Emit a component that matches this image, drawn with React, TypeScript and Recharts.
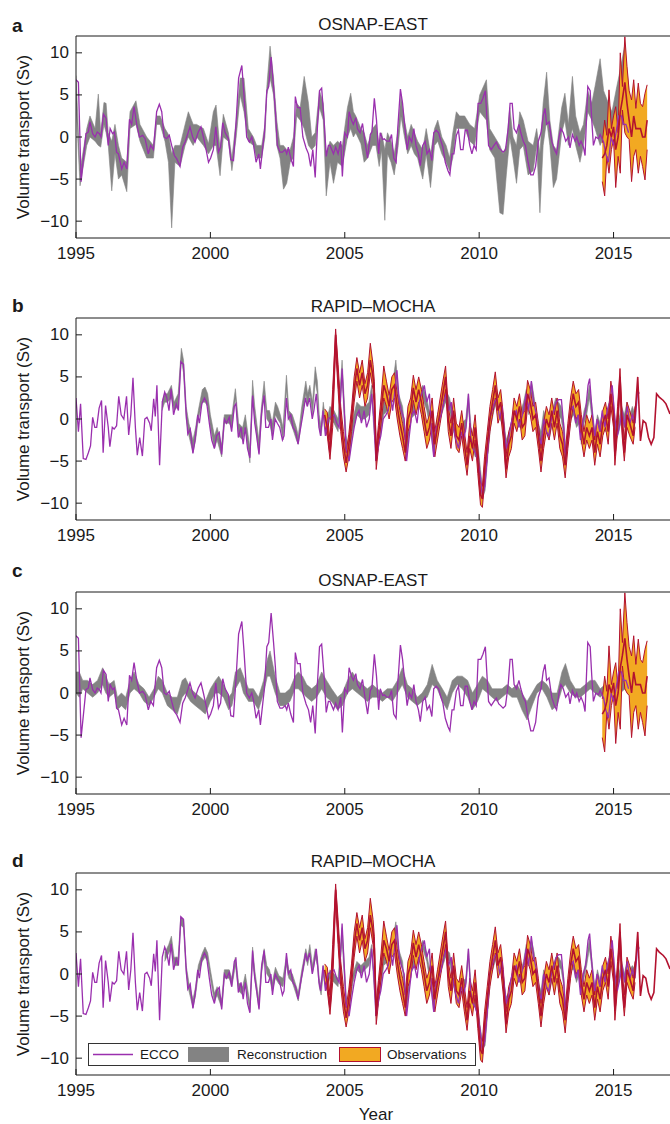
import { ComposedChart, Line, Area, XAxis, YAxis, ReferenceLine } from "recharts"

const years = [1995, 2000, 2005, 2010, 2015]
const vTicks = [-10, -5, 0, 5, 10]

// ECCO, OSNAP-EAST (panels a, c): [year, Sv]
const eccoEast: number[][] = [
  [1995.00,6.8],[1995.09,6.5],[1995.19,-5.3],[1995.37,0.4],[1995.46,0.6],[1995.52,1.8],[1995.62,0.4],[1995.71,0.0],[1995.79,0.6],[1995.87,0.4],[1995.93,0.0],
  [1996.02,2.7],[1996.12,2.2],[1996.20,-1.0],[1996.27,1.0],[1996.36,0.4],[1996.43,0.6],[1996.51,-1.8],[1996.58,-2.0],[1996.70,-3.8],[1996.79,-3.0],[1996.89,-3.8],[1996.99,2.1],
  [1997.07,1.5],[1997.16,3.6],[1997.26,1.5],[1997.36,0.0],[1997.48,0.2],[1997.57,-0.2],[1997.69,-2.0],[1997.78,-1.0],[1997.88,-1.5],
  [1998.00,3.0],[1998.10,3.9],[1998.19,3.0],[1998.28,0.0],[1998.37,-0.2],[1998.47,0.2],[1998.56,-1.0],[1998.66,-2.2],[1998.75,-2.6],[1998.87,-3.5],[1998.97,-1.2],
  [1999.06,-0.6],[1999.16,0.4],[1999.24,1.2],[1999.34,0.0],[1999.43,-0.6],[1999.55,0.6],[1999.65,1.2],[1999.74,0.0],[1999.84,-1.5],[1999.93,-3.0],
  [2000.01,-2.5],[2000.11,-1.5],[2000.20,1.2],[2000.30,-1.8],[2000.38,-1.2],[2000.46,1.7],[2000.55,0.5],[2000.67,-0.2],[2000.76,-2.7],[2000.86,-2.8],[2000.96,2.0],
  [2001.05,7.0],[2001.17,8.5],[2001.25,5.0],[2001.35,0.0],[2001.45,-0.6],[2001.54,0.0],[2001.60,-0.8],[2001.70,-3.0],[2001.80,-2.0],[2001.86,-3.8],[2001.95,-1.2],
  [2002.01,0.5],[2002.10,5.5],[2002.17,6.0],[2002.26,9.5],[2002.35,6.0],[2002.42,3.0],[2002.49,-1.0],[2002.59,-1.8],[2002.68,-1.8],[2002.78,-1.5],[2002.84,-2.0],[2002.90,-1.2],[2002.99,-2.5],
  [2003.09,-3.5],[2003.16,4.8],[2003.24,3.5],[2003.34,3.5],[2003.44,0.0],[2003.56,-1.3],[2003.65,-2.0],[2003.73,-3.5],[2003.81,-1.5],[2003.90,-4.8],[2003.98,1.0],
  [2004.06,5.5],[2004.14,5.8],[2004.23,2.0],[2004.31,-2.3],[2004.39,-1.0],[2004.45,-1.0],[2004.58,-2.0],[2004.66,-1.2],[2004.75,-2.0],[2004.85,-0.5],[2004.91,-4.7],
  [2005.00,0.5],[2005.10,0.0],[2005.16,3.0],[2005.25,2.0],[2005.32,1.5],[2005.41,2.3],[2005.47,1.0],[2005.57,0.5],[2005.66,1.6],[2005.75,-0.5],[2005.85,-2.5],[2005.95,0.3],
  [2006.01,0.6],[2006.10,4.6],[2006.18,2.0],[2006.26,-2.0],[2006.32,0.5],[2006.41,-0.3],[2006.47,-0.2],[2006.56,-0.5],[2006.66,-0.5],[2006.74,0.3],[2006.82,-2.5],[2006.91,-3.0],[2006.97,1.0],
  [2007.07,5.7],[2007.15,4.0],[2007.24,1.0],[2007.32,-1.5],[2007.40,0.0],[2007.49,-0.6],[2007.57,1.0],[2007.65,-1.0],[2007.74,-2.0],[2007.81,-3.4],[2007.90,-1.0],[2007.99,-0.5],
  [2008.06,-2.0],[2008.15,-1.5],[2008.24,-2.8],[2008.31,0.5],[2008.40,0.8],[2008.49,0.5],[2008.56,-0.3],[2008.65,-1.2],[2008.74,-3.0],[2008.84,-4.0],[2008.91,-4.5],[2008.99,-2.0],
  [2009.06,-2.0],[2009.15,0.2],[2009.23,0.8],[2009.31,-1.5],[2009.40,-1.5],[2009.48,0.8],[2009.56,0.8],[2009.65,-1.0],[2009.73,-2.0],[2009.81,-1.0],[2009.89,-1.5],[2009.96,4.0],
  [2010.06,4.0],[2010.14,4.6],[2010.23,5.5],[2010.31,1.0],[2010.35,-1.0],[2010.45,-1.5],[2010.55,-1.0],[2010.64,-0.6],[2010.73,-1.3],[2010.80,-1.5],[2010.89,-1.8],[2010.98,-1.5],
  [2011.08,1.0],[2011.15,4.0],[2011.23,4.0],[2011.30,1.0],[2011.39,0.5],[2011.48,1.5],[2011.55,0.5],[2011.64,-0.5],[2011.72,-1.0],[2011.82,-3.0],[2011.92,-4.5],
  [2012.01,-4.5],[2012.10,-3.5],[2012.20,-0.5],[2012.30,0.5],[2012.38,2.5],[2012.45,3.4],[2012.51,1.5],[2012.60,1.8],[2012.70,-0.5],[2012.80,-1.5],[2012.88,-2.0],[2012.97,0.0],
  [2013.04,1.0],[2013.13,0.5],[2013.22,-0.5],[2013.32,0.0],[2013.38,-1.3],[2013.47,0.3],[2013.57,-0.5],[2013.63,0.0],[2013.72,-1.0],[2013.79,-0.5],[2013.88,-1.2],[2013.94,-2.2],
  [2014.04,6.0],[2014.13,5.5],[2014.19,2.0],[2014.25,-1.0],[2014.34,0.0],[2014.44,-0.2],[2014.50,0.3],[2014.63,-0.6],[2014.71,-2.0],[2014.81,-3.0],[2014.91,0.0],
  [2015.00,-1.0],[2015.09,0.5],[2015.19,2.5],[2015.29,2.5],[2015.37,1.5],[2015.46,1.5],[2015.56,0.5],
]

// ECCO, RAPID-MOCHA (panels b, d)
const eccoRapid: number[][] = [
  [1995.00,2.5],[1995.09,-1.5],[1995.17,1.8],[1995.27,-4.7],[1995.37,-4.8],[1995.46,-4.0],[1995.54,-3.2],[1995.62,0.2],[1995.70,-1.0],[1995.77,-1.0],[1995.86,1.3],[1995.95,2.2],
  [1996.01,-4.0],[1996.10,1.6],[1996.20,-1.0],[1996.26,-3.3],[1996.35,-1.0],[1996.42,-1.2],[1996.51,-0.8],[1996.59,2.7],[1996.68,0.5],[1996.78,0.0],[1996.88,2.7],[1996.96,-1.9],
  [1997.04,0.5],[1997.12,4.9],[1997.21,-1.0],[1997.28,-4.3],[1997.37,-2.2],[1997.47,-4.4],[1997.56,0.0],[1997.64,0.2],[1997.74,-0.5],[1997.80,-1.4],[1997.89,2.4],[1997.95,0.3],
  [1998.01,4.0],[1998.11,-5.5],[1998.21,2.0],[1998.30,3.2],[1998.38,2.5],[1998.46,1.0],[1998.54,3.6],[1998.63,0.5],[1998.73,1.8],[1998.81,1.0],[1998.90,6.8],
  [1999.00,6.5],[1999.10,0.5],[1999.16,-1.8],[1999.25,-1.2],[1999.35,-4.1],[1999.43,-2.5],[1999.53,0.5],[1999.59,-0.5],[1999.68,1.8],[1999.78,2.5],[1999.86,2.0],[1999.96,-0.5],
  [2000.05,-2.5],[2000.15,-3.5],[2000.23,-2.0],[2000.33,-1.6],[2000.42,-4.2],[2000.52,0.0],[2000.60,-0.5],[2000.70,0.2],[2000.79,-1.5],[2000.89,1.5],[2000.95,1.8],
  [2001.04,-2.2],[2001.14,-1.0],[2001.22,-3.0],[2001.30,-1.0],[2001.38,-3.5],[2001.47,-4.6],[2001.57,2.8],[2001.65,-0.5],[2001.72,-2.0],[2001.81,-4.2],[2001.91,1.0],
  [2002.00,2.8],[2002.06,-1.0],[2002.16,-1.0],[2002.25,0.0],[2002.31,-2.5],[2002.41,0.0],[2002.49,-0.5],[2002.58,-1.0],[2002.68,-2.5],[2002.74,-2.0],[2002.83,2.5],[2002.90,0.0],[2002.99,0.5],
  [2003.07,-1.0],[2003.17,-1.5],[2003.26,-3.0],[2003.36,-1.0],[2003.44,0.5],[2003.54,2.5],[2003.60,1.5],[2003.69,2.5],[2003.79,0.0],[2003.85,1.0],[2003.94,3.0],
  [2004.04,-1.0],[2004.10,-2.0],[2004.19,1.0],[2004.28,-2.0],[2004.38,0.0],[2004.47,0.2],[2004.60,0.5],[2004.70,-0.5],[2004.79,-1.0],[2004.90,6.0],
  [2005.05,-3.5],[2005.16,-5.0],[2005.25,-3.0],[2005.35,-1.0],[2005.45,0.5],[2005.53,1.0],[2005.62,-0.5],[2005.72,1.0],[2005.81,-1.0],[2005.91,0.0],
  [2006.00,3.0],[2006.07,0.5],[2006.16,-5.0],[2006.26,-3.0],[2006.34,-2.0],[2006.43,0.0],[2006.53,0.5],[2006.62,1.0],[2006.69,3.0],[2006.78,1.0],[2006.87,3.5],[2006.94,5.8],
  [2007.03,2.0],[2007.11,1.0],[2007.21,0.0],[2007.30,-5.0],[2007.40,-2.0],[2007.49,0.5],[2007.59,1.0],[2007.69,-0.5],[2007.77,2.0],[2007.86,3.0],[2007.96,4.0],
  [2008.05,2.0],[2008.15,3.0],[2008.23,-2.0],[2008.31,-4.5],[2008.40,-1.0],[2008.48,-0.5],[2008.58,0.5],[2008.68,2.0],[2008.77,3.0],[2008.86,1.0],[2008.96,2.0],
  [2009.04,-1.0],[2009.14,-2.5],[2009.23,-3.5],[2009.33,-1.5],[2009.42,-2.5],[2009.51,-1.0],[2009.60,3.0],[2009.68,-2.0],[2009.76,-3.5],[2009.86,-4.0],[2009.96,-5.0],
  [2010.05,-7.0],[2010.11,-9.0],[2010.21,-8.0],[2010.30,-4.5],[2010.39,0.0],[2010.48,1.0],[2010.57,2.0],[2010.66,2.5],[2010.76,0.0],[2010.85,1.5],[2010.92,-1.0],
  [2011.01,-3.5],[2011.10,-2.5],[2011.19,-0.5],[2011.28,0.5],[2011.38,1.0],[2011.47,-1.0],[2011.57,0.0],[2011.65,1.0],[2011.75,3.0],[2011.84,1.0],[2011.94,4.5],
  [2012.03,2.0],[2012.13,0.5],[2012.21,-2.0],[2012.31,-3.0],[2012.40,0.0],[2012.50,-1.5],[2012.59,-2.0],[2012.69,0.0],[2012.77,1.0],[2012.87,2.0],[2012.96,2.3],
  [2013.06,2.3],[2013.15,-1.0],[2013.21,-5.0],[2013.31,-2.0],[2013.40,1.0],[2013.50,1.5],[2013.59,-0.5],[2013.68,0.5],[2013.77,-2.5],[2013.87,0.0],[2013.96,1.0],
  [2014.05,4.0],[2014.11,4.8],[2014.20,1.0],[2014.30,-2.0],[2014.39,0.0],[2014.49,-1.5],[2014.58,1.0],[2014.68,-1.0],[2014.76,1.0],[2014.86,2.0],[2014.95,4.0],
  [2015.05,0.0],[2015.14,-2.0],[2015.24,-0.5],[2015.32,1.0],[2015.42,-1.0],[2015.51,1.5],[2015.61,-0.5],[2015.70,0.5],[2015.80,-0.5],[2015.90,3.5],[2015.95,3.0],
]

// Reconstruction bands: [year, low, high]
const reconA: number[][] = [
  [1995.00,4.0,7.3],[1995.15,-5.8,-4.0],[1995.40,-1.0,1.0],[1995.52,0.0,2.5],[1995.71,-0.5,1.0],[1995.83,-1.0,5.1],[1995.92,-1.2,0.5],[1996.04,1.5,4.1],[1996.12,0.5,4.0],
  [1996.20,-1.0,0.5],[1996.33,-6.4,-0.5],[1996.45,-2.0,1.5],[1996.58,-5.0,-1.0],[1996.70,-4.5,-2.5],[1996.89,-6.5,-3.0],[1997.01,1.0,3.0],[1997.23,1.5,4.3],[1997.38,-0.5,1.5],
  [1997.63,-2.5,0.0],[1997.88,-2.5,-1.0],[1998.00,1.5,2.5],[1998.13,1.5,2.5],[1998.31,-0.5,1.0],[1998.44,-3.0,0.3],[1998.56,-10.8,-2.0],[1998.68,-3.0,-1.0],[1998.87,-3.5,-1.0],
  [1999.06,-1.0,1.5],[1999.18,0.0,3.0],[1999.36,-1.0,1.5],[1999.49,0.0,1.5],[1999.74,-1.0,1.0],[1999.93,-2.0,-0.8],[2000.11,-1.0,3.0],[2000.21,-1.0,3.8],[2000.36,-4.6,-1.5],
  [2000.48,0.0,2.7],[2000.67,-0.5,0.5],[2000.80,-4.0,-2.5],[2000.96,0.0,2.0],[2001.11,5.0,7.0],[2001.25,3.0,7.0],[2001.41,-0.5,1.0],[2001.60,-1.0,0.0],[2001.72,-2.5,-1.0],
  [2001.91,-2.5,-1.0],[2002.03,0.0,1.5],[2002.10,5.0,6.0],[2002.22,7.0,10.8],[2002.35,5.0,7.0],[2002.47,-1.0,2.0],[2002.59,-2.5,-1.0],[2002.72,-6.2,-1.0],[2002.84,-5.5,-1.5],
  [2002.97,-3.0,-1.5],[2003.09,-2.5,0.0],[2003.21,2.5,4.0],[2003.34,2.0,3.5],[2003.49,1.0,7.2],[2003.65,-1.0,4.0],[2003.77,-1.5,0.0],[2003.90,-1.0,0.5],[2004.06,3.5,5.5],
  [2004.20,2.0,4.0],[2004.31,-7.0,-2.0],[2004.45,-3.0,-0.5],[2004.58,-5.5,-1.0],[2004.73,-3.0,-0.5],[2004.91,-3.5,-1.0],[2005.10,0.0,3.5],[2005.22,1.0,5.2],[2005.32,0.0,3.0],
  [2005.41,0.5,2.5],[2005.60,-0.8,1.0],[2005.72,-3.0,0.5],[2005.85,-2.5,-1.0],[2006.03,-1.0,1.0],[2006.16,-1.0,1.5],[2006.28,-3.5,-1.0],[2006.37,-1.5,0.5],[2006.49,-9.9,-1.5],
  [2006.59,-2.0,0.5],[2006.72,-3.0,-0.5],[2006.84,-4.5,-2.0],[2006.99,-1.0,1.0],[2007.09,2.5,5.0],[2007.22,0.0,2.0],[2007.34,-2.0,0.0],[2007.47,-1.0,1.5],[2007.59,-2.0,0.5],
  [2007.71,-2.5,-0.5],[2007.90,-5.0,-1.5],[2008.03,-2.0,1.0],[2008.19,-6.0,-2.0],[2008.34,-1.0,1.0],[2008.46,-0.5,2.0],[2008.61,-2.0,0.0],[2008.77,-3.0,-1.0],[2008.90,-4.0,-2.5],
  [2009.02,-2.5,0.5],[2009.15,1.0,3.0],[2009.27,1.0,2.5],[2009.46,1.0,2.5],[2009.65,-0.5,1.5],[2009.83,-1.0,1.0],[2010.02,3.0,5.0],[2010.27,2.0,6.8],[2010.39,-1.5,1.0],
  [2010.58,-2.5,0.0],[2010.77,-9.0,-1.0],[2010.89,-9.2,-2.0],[2011.01,-4.5,-1.0],[2011.14,0.0,3.5],[2011.26,-2.5,0.0],[2011.39,-5.5,-1.0],[2011.51,-1.5,3.0],[2011.64,-1.0,2.0],
  [2011.82,-4.5,-0.5],[2012.01,-4.0,-1.0],[2012.14,-1.0,1.0],[2012.26,-9.0,-2.0],[2012.38,-1.0,4.0],[2012.51,2.0,7.7],[2012.63,-1.0,2.0],[2012.76,-6.0,-1.0],[2012.88,-5.0,-1.5],
  [2013.07,0.5,3.5],[2013.19,2.0,5.2],[2013.32,-1.0,1.5],[2013.47,1.0,7.2],[2013.59,-1.0,2.5],[2013.75,-3.0,0.5],[2013.88,-1.0,1.5],[2014.04,3.0,5.5],[2014.19,2.0,4.0],
  [2014.31,1.0,6.0],[2014.50,-1.0,9.3],[2014.63,0.0,5.5],[2014.75,-1.0,4.5],[2014.94,-0.5,3.0],[2015.12,2.0,6.0],[2015.25,1.0,8.0],[2015.41,2.0,10.8],[2015.56,0.0,6.0],[2015.68,0.0,2.0],
]

const reconB: number[][] = [
  [1998.20,1.0,2.0],[1998.30,2.0,3.0],[1998.40,2.0,3.0],[1998.55,2.5,4.0],[1998.65,1.0,2.0],[1998.80,1.5,3.0],[1998.92,7.0,8.4],[1999.00,5.5,7.0],[1999.10,0.0,1.5],
  [1999.20,-2.0,-0.5],[1999.35,-4.0,-2.5],[1999.45,-2.5,-1.0],[1999.55,0.0,1.0],[1999.70,2.0,3.5],[1999.80,2.0,3.8],[1999.90,1.5,3.0],[2000.00,-1.0,0.5],[2000.15,-3.5,-2.0],
  [2000.25,-2.5,-1.0],[2000.42,-4.5,-3.0],[2000.52,-0.5,0.5],[2000.70,-0.5,0.5],[2000.80,-1.0,0.5],[2000.93,2.5,3.6],[2001.05,-2.0,-0.5],[2001.20,-2.5,-1.0],[2001.30,-1.0,0.5],
  [2001.47,-5.2,-3.5],[2001.57,3.0,4.6],[2001.65,0.0,1.5],[2001.80,-4.0,-2.5],[2001.90,0.0,1.5],[2002.00,3.0,4.5],[2002.10,0.0,1.0],[2002.20,-0.5,1.0],[2002.30,-2.0,-0.5],
  [2002.42,0.5,2.0],[2002.50,0.0,1.5],[2002.60,-0.5,0.5],[2002.70,-2.5,-1.0],[2002.83,3.5,5.2],[2002.92,0.0,1.0],[2003.05,-1.0,0.5],[2003.20,-2.5,-1.0],[2003.27,-3.0,-2.0],
  [2003.40,0.0,1.5],[2003.55,3.0,4.5],[2003.62,1.5,3.0],[2003.70,3.0,4.0],[2003.80,0.5,2.0],[2003.90,4.5,6.2],[2003.98,3.0,4.5],[2004.05,-1.0,0.5],[2004.12,-2.0,-1.0],
  [2004.20,0.5,2.0],[2004.30,-2.0,-0.5],[2004.45,0.0,1.5],[2004.60,-0.5,1.0],[2004.75,-1.5,0.0],[2004.90,5.0,7.0],[2005.05,-4.0,-2.0],[2005.15,-5.0,-3.5],[2005.30,-1.5,0.0],
  [2005.45,0.5,2.0],[2005.60,0.0,1.5],[2005.75,0.0,1.5],[2005.90,0.5,2.0],[2006.00,2.5,4.0],[2006.17,-5.0,-3.5],[2006.30,-2.5,-1.0],[2006.45,0.5,2.0],[2006.60,1.0,2.5],
  [2006.75,2.0,3.5],[2006.90,5.5,7.0],[2007.00,1.5,3.0],[2007.15,0.0,1.5],[2007.30,-4.5,-3.0],[2007.45,0.0,1.5],[2007.60,0.5,2.0],[2007.75,1.5,3.0],[2007.90,2.5,4.0],
  [2008.05,1.0,2.5],[2008.20,-1.5,0.0],[2008.30,-4.0,-2.5],[2008.45,-1.0,0.5],[2008.60,0.5,2.0],[2008.75,2.0,3.5],[2008.90,1.0,2.5],[2009.05,-1.5,0.0],[2009.20,-3.5,-2.0],
  [2009.35,-2.0,-0.5],[2009.50,-1.5,0.0],[2009.60,1.5,3.0],[2009.70,-2.5,-1.0],[2009.85,-4.5,-3.0],[2009.95,-4.5,-3.0],[2010.05,-7.5,-6.0],[2010.12,-9.5,-8.0],[2010.22,-8.5,-7.0],
  [2010.32,-4.5,-3.0],[2010.42,-1.0,0.5],[2010.55,1.0,2.5],[2010.65,2.0,3.5],[2010.78,0.0,1.5],[2010.90,-1.0,0.5],[2011.00,-4.0,-2.5],[2011.12,-3.0,-1.5],[2011.25,-1.0,0.5],
  [2011.40,0.0,1.5],[2011.50,-1.0,0.5],[2011.65,0.5,2.0],[2011.75,2.0,3.5],[2011.85,0.5,2.0],[2011.95,3.0,4.5],[2012.05,1.0,2.5],[2012.20,-2.0,-0.5],[2012.30,-3.0,-1.5],
  [2012.40,-0.5,1.0],[2012.50,-1.5,0.0],[2012.60,-2.5,-1.0],[2012.72,-0.5,1.0],[2012.85,1.0,2.5],[2012.95,0.5,2.0],[2013.05,0.0,1.5],[2013.15,-2.0,-0.5],[2013.22,-5.0,-3.5],
  [2013.32,-2.5,-1.0],[2013.42,0.0,1.5],[2013.52,0.5,2.0],[2013.62,-1.0,0.5],[2013.72,-0.5,1.0],[2013.80,-3.0,-1.5],[2013.90,-0.5,1.0],[2014.00,0.5,2.0],[2014.10,2.5,4.0],
  [2014.20,0.0,1.5],[2014.30,-3.0,-1.5],[2014.40,-1.0,0.5],[2014.50,-2.0,-0.5],[2014.60,-0.5,1.0],[2014.70,-1.5,0.0],[2014.80,0.0,1.5],[2014.90,1.5,3.0],[2015.00,0.0,1.5],
  [2015.10,-2.5,-1.0],[2015.20,-1.5,0.0],[2015.30,0.0,1.5],[2015.40,-1.0,0.5],[2015.50,0.5,2.0],[2015.60,-1.0,0.5],[2015.70,0.0,1.5],[2015.80,-1.0,0.5],
]

const reconC: number[][] = [
  [1995.00,0.0,2.5],[1995.12,-0.5,2.5],[1995.25,0.5,1.5],[1995.43,0.0,1.5],[1995.62,-0.5,1.0],[1995.80,0.0,1.5],[1995.99,1.0,3.0],[1996.11,0.0,2.0],[1996.23,-0.5,1.0],
  [1996.42,0.0,1.5],[1996.54,-2.0,-0.5],[1996.69,-1.5,0.0],[1996.85,-2.0,-0.5],[1997.01,0.0,1.5],[1997.16,0.5,2.5],[1997.35,0.0,1.0],[1997.53,-1.0,0.5],[1997.72,-1.5,-0.5],
  [1997.90,-0.5,0.5],[1998.06,0.5,2.0],[1998.21,0.0,1.5],[1998.40,-1.5,0.0],[1998.58,-2.0,-0.5],[1998.77,-2.5,-0.5],[1998.95,-0.5,1.5],[1999.07,0.0,1.8],[1999.26,-1.0,0.5],
  [1999.44,-1.5,0.0],[1999.63,-2.0,-0.5],[1999.81,-2.5,-1.0],[2000.00,-1.0,0.5],[2000.19,0.0,1.5],[2000.31,0.0,2.0],[2000.49,-0.5,1.0],[2000.68,-2.0,-0.5],[2000.80,-1.5,0.0],
  [2000.93,0.5,2.5],[2001.11,1.5,3.0],[2001.23,0.0,2.0],[2001.42,-1.0,0.5],[2001.60,-1.0,0.5],[2001.79,-2.0,-0.5],[2001.98,0.0,1.5],[2002.12,2.0,4.0],[2002.22,2.0,5.0],
  [2002.41,0.0,2.0],[2002.59,-1.5,0.0],[2002.78,-1.5,0.0],[2002.96,-1.0,0.5],[2003.15,0.5,2.0],[2003.27,0.5,2.5],[2003.43,0.0,2.0],[2003.58,-0.5,1.0],[2003.77,-1.0,0.5],
  [2003.95,-0.5,1.0],[2004.14,0.5,2.5],[2004.32,-0.5,1.5],[2004.51,-1.0,0.5],[2004.73,-2.0,-0.5],[2004.91,-1.5,0.0],[2005.10,0.0,1.5],[2005.28,0.5,2.5],[2005.47,0.0,1.5],
  [2005.66,-0.5,1.0],[2005.84,-1.0,0.5],[2006.03,-0.5,1.0],[2006.21,-0.5,0.5],[2006.40,-1.0,0.0],[2006.58,-0.5,0.5],[2006.77,-1.0,0.5],[2006.96,0.0,1.5],[2007.14,1.0,3.0],
  [2007.33,-0.5,1.0],[2007.51,-1.0,0.5],[2007.70,-1.5,-0.5],[2007.88,-1.0,0.0],[2008.07,-0.5,1.0],[2008.25,1.0,3.4],[2008.44,0.5,1.5],[2008.63,-1.0,0.5],[2008.81,-2.0,-0.5],
  [2009.00,0.0,1.5],[2009.18,1.0,2.0],[2009.37,0.5,2.0],[2009.57,-0.5,1.5],[2009.75,-2.0,0.0],[2009.94,-1.0,1.0],[2010.12,0.5,2.0],[2010.31,0.0,1.5],[2010.48,-0.5,0.5],
  [2010.67,-1.0,0.5],[2010.85,-0.5,0.5],[2011.04,0.0,1.0],[2011.22,-0.5,0.5],[2011.41,-0.5,1.0],[2011.59,-2.0,0.0],[2011.78,-3.2,-1.0],[2011.97,-1.5,0.0],[2012.15,0.0,1.0],
  [2012.34,0.5,1.5],[2012.52,-0.5,1.0],[2012.71,-2.0,0.0],[2012.90,-1.5,0.0],[2013.08,0.5,2.5],[2013.21,1.0,3.5],[2013.39,0.0,1.5],[2013.58,-0.5,0.5],[2013.76,-0.5,0.5],
  [2013.95,0.0,1.0],[2014.13,0.5,1.5],[2014.31,0.0,1.5],[2014.50,-0.5,0.5],[2014.69,0.0,1.0],[2014.88,-0.5,0.5],[2015.06,0.0,1.5],[2015.25,0.0,1.5],[2015.43,0.5,2.0],[2015.62,-0.5,1.0],
]

const reconD: number[][] = [
  [1998.30,1.5,2.5],[1998.45,2.5,3.5],[1998.55,3.0,4.5],[1998.65,1.0,2.0],[1998.80,1.0,2.0],[1998.90,5.8,6.8],[1999.00,5.5,6.5],[1999.10,0.0,1.0],[1999.20,-2.0,-1.0],
  [1999.35,-4.0,-3.0],[1999.45,-2.5,-1.5],[1999.55,0.0,1.0],[1999.70,1.5,2.5],[1999.80,2.0,3.2],[1999.90,1.5,2.5],[2000.00,-0.5,0.5],[2000.15,-3.3,-2.3],[2000.25,-2.5,-1.5],
  [2000.42,-4.0,-3.0],[2000.52,-0.5,0.5],[2000.70,-0.5,0.5],[2000.80,-1.5,-0.5],[2000.93,1.0,2.0],[2001.05,-2.0,-1.0],[2001.20,-2.5,-1.5],[2001.30,-1.0,0.0],[2001.47,-4.5,-3.5],
  [2001.57,1.5,3.2],[2001.65,-0.5,0.5],[2001.80,-4.0,-3.0],[2001.90,0.0,1.0],[2002.00,2.0,3.0],[2002.10,0.0,1.0],[2002.20,-0.5,0.5],[2002.30,-2.0,-1.0],[2002.42,-0.5,0.8],
  [2002.55,-1.2,-0.2],[2002.70,-1.5,-0.5],[2002.83,1.0,2.2],[2002.92,-0.5,0.5],[2003.05,-1.0,0.0],[2003.20,-2.5,-1.5],[2003.27,-3.2,-2.2],[2003.40,-0.5,0.5],[2003.55,2.0,3.0],
  [2003.62,1.0,2.0],[2003.70,2.5,3.5],[2003.80,0.0,1.0],[2003.90,2.0,3.0],[2003.98,1.0,2.0],[2004.05,-1.5,-0.5],[2004.12,-2.5,-1.5],[2004.20,0.0,1.0],[2004.30,-2.0,-1.0],
  [2004.45,-0.5,0.5],[2004.60,-1.0,0.0],[2004.75,-1.5,-0.5],[2004.90,4.0,5.5],[2005.05,-4.0,-2.5],[2005.15,-5.0,-4.0],[2005.30,-1.0,0.0],[2005.45,0.5,1.5],[2005.60,0.0,1.0],
  [2005.75,0.5,1.5],[2005.90,1.0,2.0],[2006.00,2.5,3.5],[2006.17,-5.0,-4.0],[2006.30,-2.5,-1.5],[2006.45,1.0,2.0],[2006.60,1.5,2.5],[2006.75,2.5,3.5],[2006.90,5.2,6.2],
  [2007.00,2.0,3.0],[2007.15,0.5,1.5],[2007.30,-4.5,-3.5],[2007.45,0.0,1.0],[2007.60,1.0,2.0],[2007.75,1.5,2.5],[2007.90,3.0,4.0],[2008.05,1.5,2.5],[2008.20,-1.5,-0.5],
  [2008.30,-4.2,-3.2],[2008.45,-1.0,0.0],[2008.60,0.5,1.5],[2008.75,2.0,3.0],[2008.90,1.5,2.5],[2009.05,-1.5,-0.5],[2009.20,-3.5,-2.5],[2009.35,-2.0,-1.0],[2009.50,-1.5,-0.5],
  [2009.60,2.0,3.0],[2009.70,-2.5,-1.5],[2009.85,-4.0,-3.0],[2009.95,-5.0,-4.0],[2010.05,-7.5,-6.5],[2010.12,-9.0,-8.0],[2010.22,-8.5,-7.5],[2010.32,-4.5,-3.5],[2010.42,-0.5,0.5],
  [2010.55,1.0,2.0],[2010.65,2.0,3.0],[2010.78,0.5,1.5],[2010.90,-1.0,0.0],[2011.00,-3.8,-2.8],[2011.12,-3.0,-2.0],[2011.25,-1.0,0.0],[2011.40,0.5,1.5],[2011.50,-1.0,0.0],
  [2011.65,0.5,1.5],[2011.75,2.5,3.5],[2011.85,1.0,2.0],[2011.95,3.0,4.0],[2012.05,1.5,2.5],[2012.20,-2.0,-1.0],[2012.30,-3.0,-2.0],[2012.40,-0.5,0.5],[2012.50,-1.5,-0.5],
  [2012.60,-2.5,-1.5],[2012.72,-0.5,0.5],[2012.85,1.0,2.0],[2012.95,1.0,2.0],[2013.05,0.5,1.5],[2013.15,-1.5,-0.5],[2013.22,-5.0,-4.0],[2013.32,-2.5,-1.5],[2013.42,0.5,1.5],
  [2013.52,0.5,1.5],[2013.62,-1.0,0.0],[2013.72,0.0,1.0],[2013.80,-2.5,-1.5],[2013.90,-0.5,0.5],[2014.00,1.0,2.0],[2014.10,3.0,4.2],[2014.20,0.5,1.5],[2014.30,-2.5,-1.5],
  [2014.40,-0.5,0.5],[2014.50,-1.8,-0.8],[2014.60,0.0,1.0],[2014.70,-1.0,0.0],[2014.80,0.5,1.5],[2014.90,2.0,3.0],[2015.00,0.0,1.0],[2015.10,-2.0,-1.0],[2015.20,-1.0,0.0],
  [2015.30,0.5,1.5],[2015.40,-1.0,0.0],[2015.50,0.5,1.5],[2015.60,-0.5,0.5],[2015.70,0.0,1.0],[2015.80,-0.5,0.5],
]

// Observations: [year, low, mean, high]
const obsEast: number[][] = [
  [2014.58,-5.3,-2.5,-0.7],[2014.67,-7.0,-2.0,2.0],[2014.75,-2.3,-1.0,0.2],[2014.83,-4.3,1.0,5.6],[2014.92,-1.5,0.0,1.0],[2015.00,-0.3,1.2,2.5],
  [2015.08,-6.0,-1.5,3.6],[2015.17,-2.3,0.0,0.5],[2015.25,-4.3,3.0,10.0],[2015.33,3.2,4.5,6.0],[2015.42,0.5,6.5,11.9],[2015.50,0.0,4.0,8.4],
  [2015.58,-0.3,2.0,5.5],[2015.67,-5.3,0.0,4.4],[2015.75,-2.3,2.5,6.8],[2015.83,-1.5,1.0,3.4],[2015.92,-4.3,1.0,6.4],[2016.00,-2.3,1.0,4.0],
  [2016.08,-3.5,0.0,3.6],[2016.17,-5.1,0.0,5.2],[2016.25,-1.5,2.0,6.2],
]

const obsRapid: number[][] = [
  [2004.25,-0.8,0.5,1.2],[2004.35,-2.0,-1.0,0.8],[2004.45,-4.8,-4.0,-2.5],[2004.55,-1.0,1.5,3.5],[2004.66,8.5,10.0,10.7],[2004.75,3.5,5.0,6.5],[2004.85,-1.5,0.0,1.5],
  [2004.95,-4.5,-3.0,-1.5],[2005.05,-6.3,-5.2,-4.0],[2005.15,-4.5,-3.0,-1.8],[2005.25,-1.5,0.0,1.2],[2005.35,2.0,3.5,5.0],[2005.45,4.5,6.0,7.3],[2005.55,2.5,4.0,5.5],
  [2005.65,4.0,5.5,7.0],[2005.75,1.5,3.0,4.2],[2005.85,2.5,4.0,5.5],[2005.95,5.5,7.0,9.0],[2006.05,3.5,5.0,6.5],[2006.10,1.5,3.0,4.5],[2006.17,-6.0,-5.0,-3.5],
  [2006.25,-3.5,-2.0,-0.8],[2006.35,-0.5,1.0,2.5],[2006.45,2.5,4.0,6.3],[2006.55,1.5,3.0,4.5],[2006.65,0.0,1.5,2.8],[2006.75,2.0,3.5,5.0],[2006.85,2.5,4.0,5.5],
  [2006.95,0.0,1.5,3.0],[2007.05,-2.0,-0.5,1.0],[2007.15,-3.5,-2.0,-0.5],[2007.25,-5.0,-4.0,-2.5],[2007.35,-1.5,0.0,1.5],[2007.45,-0.5,1.0,2.5],[2007.55,2.2,3.7,5.2],
  [2007.65,0.5,2.0,3.5],[2007.75,2.0,3.5,5.0],[2007.85,0.5,2.0,3.5],[2007.95,-1.5,0.0,1.5],[2008.05,-3.5,-2.0,-0.5],[2008.15,-2.5,-1.0,0.5],[2008.25,-0.5,1.0,2.5],
  [2008.35,-4.5,-3.0,-1.5],[2008.45,-2.5,-1.0,0.5],[2008.55,-0.5,1.0,2.5],[2008.65,1.5,3.0,4.5],[2008.75,3.5,5.0,6.3],[2008.85,-1.5,0.0,1.5],[2008.95,-3.5,-2.0,-0.5],
  [2009.05,-0.5,1.0,2.5],[2009.15,-3.5,-2.0,-0.5],[2009.25,-4.0,-2.5,-1.0],[2009.35,-2.0,-0.5,1.0],[2009.45,-4.5,-3.0,-1.5],[2009.55,-6.7,-5.5,-4.0],[2009.65,-3.5,-2.0,-0.5],
  [2009.75,-5.0,-3.5,-2.0],[2009.85,-2.5,-1.0,0.5],[2009.95,-6.5,-5.0,-3.5],[2010.05,-10.2,-9.0,-7.5],[2010.12,-10.5,-9.5,-8.0],[2010.20,-7.5,-6.0,-4.5],[2010.30,-4.5,-3.0,-1.5],
  [2010.40,-1.5,0.0,1.5],[2010.50,0.5,2.0,3.5],[2010.60,2.5,4.0,5.6],[2010.70,-0.5,1.0,2.5],[2010.80,0.5,2.0,3.5],[2010.90,-2.5,-1.0,0.5],[2011.00,-7.0,-6.0,-4.5],
  [2011.10,-4.5,-3.0,-1.5],[2011.20,-3.5,-2.0,-0.5],[2011.30,-0.5,1.0,2.5],[2011.40,-1.5,0.0,1.5],[2011.50,0.0,1.5,3.0],[2011.60,-2.5,-1.0,0.5],[2011.70,-2.0,-0.5,1.0],
  [2011.80,1.5,3.0,4.6],[2011.90,0.5,2.0,3.5],[2012.00,-1.5,0.0,1.5],[2012.10,-1.0,0.5,2.0],[2012.20,-3.5,-2.0,-0.5],[2012.30,-6.3,-5.0,-3.5],[2012.40,-3.5,-2.0,-0.5],
  [2012.50,-1.5,0.0,1.5],[2012.60,-2.5,-1.0,0.5],[2012.70,-0.5,1.0,2.5],[2012.80,-2.5,-1.0,0.5],[2012.90,-0.5,1.0,2.5],[2013.00,-3.5,-2.0,-0.5],[2013.10,-4.5,-3.0,-1.5],
  [2013.20,-7.0,-5.5,-4.0],[2013.30,-3.5,-2.0,-0.5],[2013.40,-0.5,1.0,2.5],[2013.50,1.5,3.0,4.5],[2013.60,0.0,1.5,3.0],[2013.70,0.5,2.0,3.5],[2013.80,-2.5,-1.0,0.5],
  [2013.90,-4.5,-3.0,-1.5],[2014.00,-2.5,-1.0,0.5],[2014.10,-3.5,-2.0,-0.5],[2014.20,-2.5,-1.0,0.5],[2014.30,-5.5,-4.0,-2.5],[2014.40,-3.0,-1.5,0.0],[2014.50,-4.5,-3.0,-1.5],
  [2014.60,-2.0,-0.5,1.0],[2014.70,-1.0,0.5,2.0],[2014.80,-3.0,-1.5,0.0],[2014.90,1.5,3.0,4.5],[2015.00,-1.0,0.5,2.0],[2015.05,-5.5,-4.4,-3.0],[2015.15,-1.5,0.0,1.5],
  [2015.24,3.5,5.0,6.0],[2015.32,-2.0,-1.0,0.5],[2015.40,-5.0,-4.0,-2.5],[2015.50,-1.0,0.5,2.0],[2015.60,-2.0,-0.5,1.0],[2015.73,-3.0,-2.0,-0.5],[2015.80,-1.0,0.5,1.5],
]

// RAPID observations after the band ends: [year, mean]
const obsRapidTail: number[][] = [
  [2015.90,5.0],[2016.00,-2.6],[2016.10,-0.2],[2016.20,-0.5],[2016.30,-2.2],[2016.40,-3.0],[2016.50,-2.2],[2016.60,3.0],[2016.70,2.6],[2016.85,2.2],[2016.95,1.8],[2017.10,0.6],
]

const ink = "#1a1a1a"
const purple = "#9a2fae"
const gray = "#838383"
const orange = "#f2a922"
const red = "#b3122f"
const font = "'Liberation Sans', Arial, sans-serif"

type Row = { t: number; ecco?: number; rec?: number[]; obs?: number[]; mid?: number }

function buildRows(ecco: number[][], rec: number[][], obs: number[][], tail: number[][]) {
  const m = new Map<string, Row>()
  const get = (t: number) => {
    const k = t.toFixed(2)
    let r = m.get(k)
    if (!r) { r = { t }; m.set(k, r) }
    return r
  }
  ecco.forEach(([t, v]) => { get(t).ecco = v })
  rec.forEach(([t, lo, hi]) => { get(t).rec = [lo, hi] })
  obs.forEach(([t, lo, mid, hi]) => { const r = get(t); r.obs = [lo, hi]; r.mid = mid })
  tail.forEach(([t, v]) => { get(t).mid = v })
  return [...m.values()].sort((a, b) => a.t - b.t)
}

const XTick = (p: any) => (
  <g>
    <line x1={p.x} x2={p.x} y1={p.y} y2={p.y - 6} stroke={ink} />
    <text x={p.x} y={p.y + 15} textAnchor="middle" dominantBaseline="central" fontSize={17} fill={ink} fontFamily={font}>
      {p.payload.value}
    </text>
  </g>
)

const YTick = (p: any) => (
  <g>
    <line x1={p.x} x2={p.x + 6} y1={p.y} y2={p.y} stroke={ink} />
    <text x={p.x - 7} y={p.y} textAnchor="end" dominantBaseline="central" fontSize={17} fill={ink} fontFamily={font}>
      {String(p.payload.value).replace("-", "\u2212")}
    </text>
  </g>
)

const PLOT_H = 202

function Panel({ top, rows }: { top: number; rows: Row[] }) {
  return (
    <div style={{ position: "absolute", left: 0, top: top - 36 }}>
      <ComposedChart width={670} height={PLOT_H + 36 + 30} data={rows} margin={{ top: 36, right: 0, bottom: 0, left: 0 }}>
        <XAxis type="number" dataKey="t" domain={[1995, 2017.1]} ticks={years} interval={0} allowDataOverflow
          height={30} tickLine={false} tickSize={0} tickMargin={0} axisLine={{ stroke: ink }} tick={XTick} />
        <YAxis type="number" domain={[-12, 12]} ticks={vTicks} interval={0} allowDataOverflow
          width={76} tickLine={false} tickSize={0} tickMargin={0} axisLine={{ stroke: ink }} tick={YTick} />
        <ReferenceLine y={12} stroke={ink} />
        <Area type="linear" dataKey="rec" fill={gray} fillOpacity={1} stroke={gray} strokeWidth={0.6}
          connectNulls dot={false} activeDot={false} isAnimationActive={false} />
        <Area type="linear" dataKey="obs" fill={orange} fillOpacity={1} stroke={red} strokeWidth={1}
          connectNulls dot={false} activeDot={false} isAnimationActive={false} />
        <Line type="linear" dataKey="ecco" stroke={purple} strokeWidth={1.3}
          connectNulls dot={false} activeDot={false} isAnimationActive={false} />
        <Line type="linear" dataKey="mid" stroke={red} strokeWidth={1.6}
          connectNulls dot={false} activeDot={false} isAnimationActive={false} />
      </ComposedChart>
    </div>
  )
}

const panels = [
  { top: 36, letter: "a", letterY: 31.5, title: "OSNAP-EAST" },
  { top: 318, letter: "b", letterY: 311.5, title: "RAPID\u2013MOCHA" },
  { top: 592, letter: "c", letterY: 577, title: "OSNAP-EAST" },
  { top: 873, letter: "d", letterY: 866.5, title: "RAPID\u2013MOCHA" },
]

export default function App() {
  const rows = [
    buildRows(eccoEast, reconA, obsEast, []),
    buildRows(eccoRapid, reconB, obsRapid, obsRapidTail),
    buildRows(eccoEast, reconC, obsEast, []),
    buildRows(eccoRapid, reconD, obsRapid, obsRapidTail),
  ]
  return (
    <div style={{ position: "relative", width: 670, height: 1124, background: "#fff", overflow: "hidden", fontFamily: font }}>
      <style>{"body{margin:0}"}</style>
      {panels.map((p, i) => <Panel key={p.letter} top={p.top} rows={rows[i]} />)}
      <svg width={670} height={1124} style={{ position: "absolute", left: 0, top: 0, pointerEvents: "none" }} fontFamily={font}>
        {panels.map((p) => (
          <g key={p.letter}>
            <text x={12} y={p.letterY} fontSize={19} fontWeight="bold" fill={ink}>{p.letter}</text>
            <text x={373} y={p.top - 6} fontSize={17} textAnchor="middle" fill={ink}>{p.title}</text>
            <text transform={`translate(23,${p.top + PLOT_H / 2}) rotate(-90)`} fontSize={17} textAnchor="middle" dominantBaseline="central" fill={ink}>
              Volume transport (Sv)
            </text>
          </g>
        ))}
        <text x={376} y={1120} fontSize={17} textAnchor="middle" fill={ink}>Year</text>
        <g>
          <rect x={88.5} y={1043.5} width={387} height={22} fill="#fff" stroke="#333" />
          <line x1={93} x2={133} y1={1054.5} y2={1054.5} stroke={purple} strokeWidth={1.3} />
          <text x={140} y={1054.5} fontSize={13.5} dominantBaseline="central" fill={ink}>ECCO</text>
          <rect x={188} y={1047} width={41} height={15} fill={gray} />
          <text x={237} y={1054.5} fontSize={13.5} dominantBaseline="central" fill={ink}>Reconstruction</text>
          <rect x={339.5} y={1047.5} width={41} height={14} fill={orange} stroke={red} strokeWidth={1} />
          <text x={387} y={1054.5} fontSize={13.5} dominantBaseline="central" fill={ink}>Observations</text>
        </g>
      </svg>
    </div>
  )
}
